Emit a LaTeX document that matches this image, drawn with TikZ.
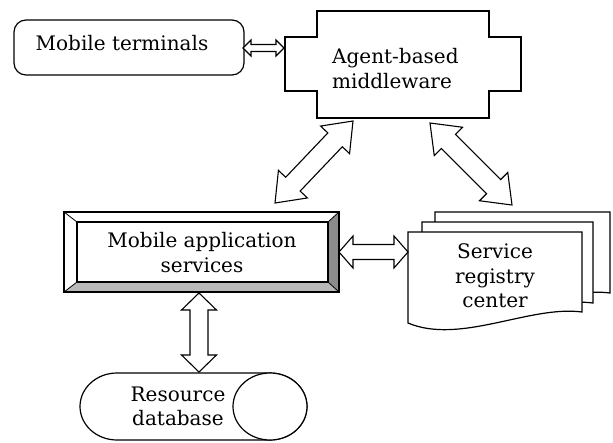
\documentclass[tikz,border=0pt]{standalone}
\usepackage{fontspec}
\setmainfont{DejaVu Serif}
\usetikzlibrary{calc}
\tikzset{
  box/.style={draw, line width=1.2pt, fill=white},
  thinline/.style={draw, line width=0.8pt},
  lbl/.style={font=\fontsize{20}{24.5}\selectfont, align=center, inner sep=0pt},
  harrow/.style={draw, line width=1.1pt, fill=white, line join=miter},
}
\newcommand\hollowarrow[5]{%
  \draw[harrow] let \p1=(#1), \p2=(#2), \n1={atan2(\y2-\y1,\x2-\x1)} in
    (\p1) -- ($(\p1)+(\n1:#5)+(\n1+90:#4)$) -- ($(\p1)+(\n1:#5)+(\n1+90:#3)$)
    -- ($(\p2)+(\n1+180:#5)+(\n1+90:#3)$) -- ($(\p2)+(\n1+180:#5)+(\n1+90:#4)$)
    -- (\p2) -- ($(\p2)+(\n1+180:#5)+(\n1-90:#4)$) -- ($(\p2)+(\n1+180:#5)+(\n1-90:#3)$)
    -- ($(\p1)+(\n1:#5)+(\n1-90:#3)$) -- ($(\p1)+(\n1:#5)+(\n1-90:#4)$) -- cycle;}
\begin{document}
\begin{tikzpicture}[x=1pt,y=-1pt]
\useasboundingbox (0,0) rectangle (613,442);

% Mobile terminals
\node[box, rounded corners=12pt, minimum width=230pt, minimum height=55pt] (term) at (129,47.5) {};
\node[lbl] (termt) at (122,43) {Mobile terminals};

% Agent-based middleware
\draw[box] (317,11) -- (489,11) -- (489,37) -- (521,37) -- (521,91) -- (489,91)
  -- (489,118) -- (317,118) -- (317,91) -- (285,91) -- (285,37) -- (317,37) -- cycle;
\node[lbl, align=left, anchor=west] (mwt) at (332,68.5) {Agent-based\\middleware};

% Mobile application services (bevelled box)
\fill[white] (64,212) rectangle (339,292);
\fill[black!45] (339,212) -- (339,292) -- (328,282) -- (328,222) -- cycle;
\fill[black!28] (64,292) -- (339,292) -- (328,282) -- (77,282) -- cycle;
\draw[thinline] (64,212) -- (77,222) (339,212) -- (328,222) (64,292) -- (77,282) (339,292) -- (328,282);
\draw[box, fill=none] (64,212) rectangle (339,292);
\draw[box, fill=none] (77,222) rectangle (328,282);
\node[lbl] (mast) at (202,252.5) {Mobile application\\services};

% Service registry center (stacked documents)
\draw[box] (435,212) -- (610,212) -- (610,293) .. controls (558,286) and (487,326) .. (435,304) -- cycle;
\draw[box] (422,222) -- (593,222) -- (593,303) .. controls (541,296) and (474,336) .. (422,314) -- cycle;
\draw[box] (408,232) -- (582,232) -- (582,312) .. controls (530,305) and (460,345) .. (408,323) -- cycle;
\node[lbl] (regt) at (495,276) {Service\\registry\\center};

% Resource database (horizontal cylinder)
\draw[box] (117,373) -- (270,373) arc[start angle=-90, end angle=90, x radius=37, y radius=33.5]
  -- (117,440) arc[start angle=90, end angle=270, x radius=37, y radius=33.5] -- cycle;
\draw[box] (270,406.5) ellipse[x radius=37, y radius=33.5];
\node[lbl] (dbt) at (178,406.5) {Resource\\database};

% arrow end points
\coordinate (a1s) at (243,48);  \coordinate (a1e) at (284,48);
\coordinate (a2s) at (275,203); \coordinate (a2e) at (353,121);
\coordinate (a3s) at (430,123); \coordinate (a3e) at (512,205);
\coordinate (a4s) at (339,252); \coordinate (a4e) at (408,252);
\coordinate (a5s) at (199,293); \coordinate (a5e) at (199,372);

\hollowarrow{a1s}{a1e}{3.5pt}{8pt}{8pt}
\hollowarrow{a2s}{a2e}{10pt}{20pt}{26pt}
\hollowarrow{a3s}{a3e}{10pt}{20pt}{26pt}
\hollowarrow{a4s}{a4e}{7.5pt}{16pt}{14pt}
\hollowarrow{a5s}{a5e}{9pt}{17.5pt}{17pt}
\end{tikzpicture}
\end{document}
